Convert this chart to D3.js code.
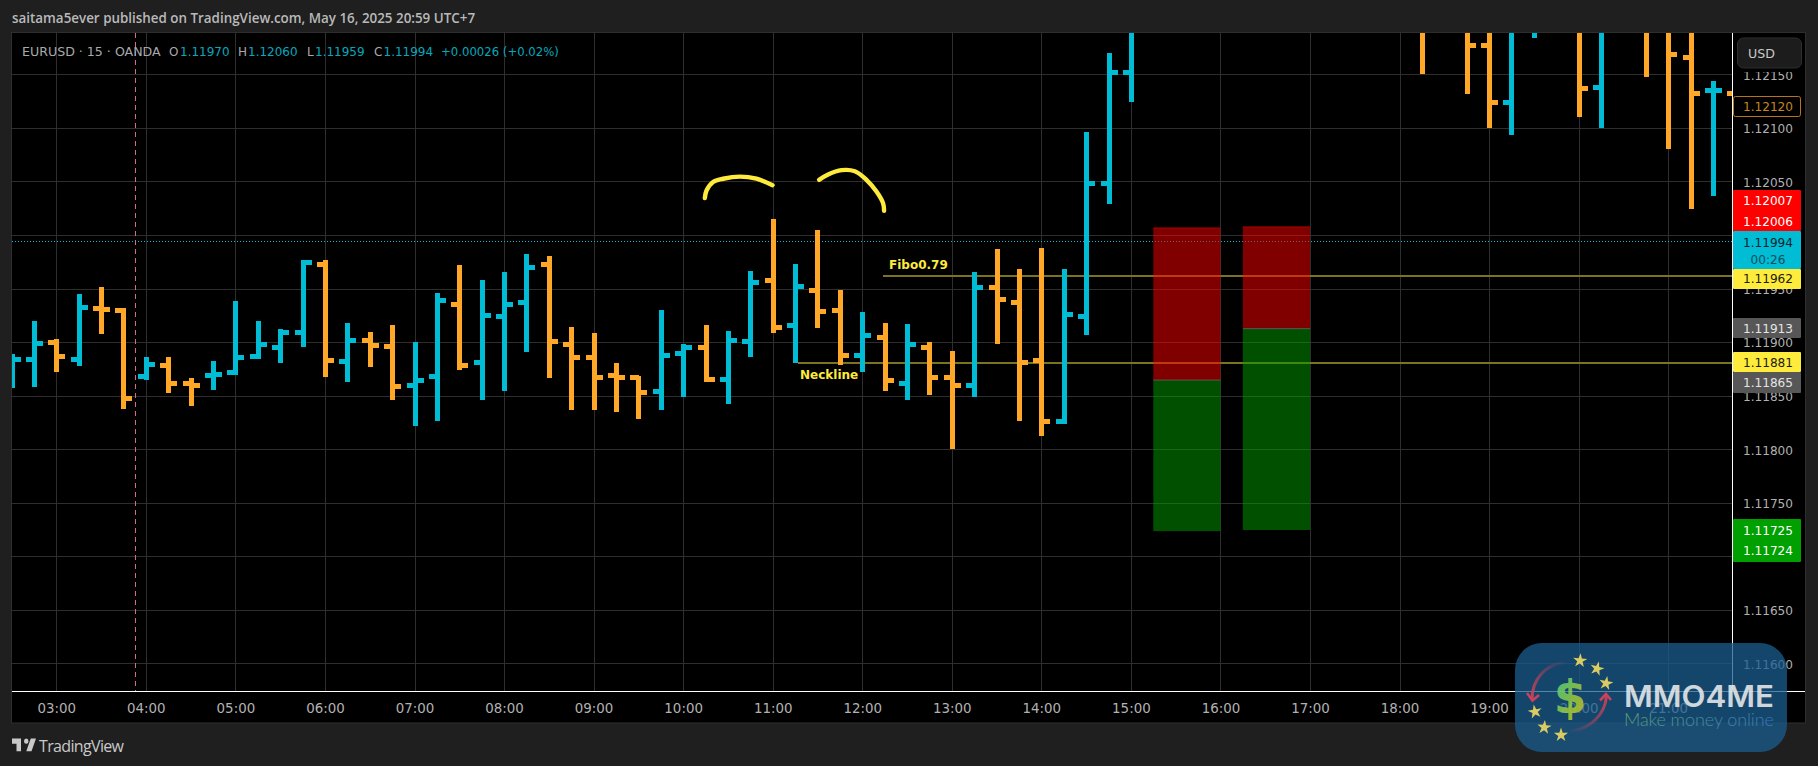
<!DOCTYPE html>
<html><head><meta charset="utf-8">
<script src="https://cdn.jsdelivr.net/npm/d3@7/dist/d3.min.js"></script>
<style>html,body{margin:0;padding:0;background:#1f1f1f;overflow:hidden}svg{display:block}</style>
</head><body><svg id="c" width="1818" height="766"></svg>
<script>
// ---------- data ----------
const barSlots=[0,1,2,3,4,5,6,7,8,9,10,11,12,13,14,15,16,17,18,19,20,21,22,23,24,25,26,27,28,29,30,31,32,33,34,35,36,37,38,39,40,41,42,43,44,45,46,47,48,49,50,63,65,66,67,68,70,71,73,74,75,76,77];
const opens =[1.11875,1.11884,1.11900,1.11884,1.11932,1.11930,1.11868,1.11879,1.11862,1.11869,1.11872,1.11887,1.11895,1.11909,1.11973,1.11882,1.11902,1.11896,1.11860,1.11868,1.11936,1.11881,1.11924,1.11937,1.11973,1.11898,1.11886,1.11869,1.11867,1.11854,1.11890,1.11895,1.11866,1.11901,1.11958,1.11916,1.11949,1.11930,1.11888,1.11905,1.11862,1.11895,1.11867,1.11860,1.11951,1.11937,1.11883,1.11826,1.11924,1.12049,1.12152,1.12230,1.12200,1.12177,1.12124,1.12195,1.12200,1.12138,1.12230,1.12195,1.12166,1.12135,1.12133];
const highs =[1.11889,1.11920,1.11903,1.11945,1.11952,1.11932,1.11887,1.11887,1.11867,1.11883,1.11939,1.11920,1.11913,1.11977,1.11977,1.11918,1.11910,1.11916,1.11901,1.11946,1.11972,1.11958,1.11966,1.11983,1.11981,1.11915,1.11909,1.11881,1.11869,1.11930,1.11899,1.11916,1.11911,1.11967,1.12015,1.11973,1.12005,1.11949,1.11929,1.11918,1.11917,1.11901,1.11892,1.11966,1.11987,1.11969,1.11988,1.11969,1.12097,1.12170,1.12230,1.12240,1.12210,1.12195,1.12205,1.12215,1.12210,1.12205,1.12240,1.12205,1.12200,1.12144,1.12140];
const lows  =[1.11858,1.11859,1.11873,1.11878,1.11908,1.11838,1.11865,1.11853,1.11841,1.11856,1.11870,1.11885,1.11881,1.11896,1.11868,1.11863,1.11877,1.11846,1.11822,1.11827,1.11874,1.11846,1.11855,1.11891,1.11867,1.11837,1.11837,1.11835,1.11829,1.11837,1.11849,1.11863,1.11843,1.11887,1.11909,1.11881,1.11914,1.11879,1.11873,1.11855,1.11846,1.11851,1.11801,1.11849,1.11899,1.11827,1.11813,1.11824,1.11907,1.12029,1.12125,1.12151,1.12132,1.12100,1.12094,1.12184,1.12111,1.12100,1.12148,1.12081,1.12025,1.12037,1.12120];
const closes=[1.11884,1.11899,1.11887,1.11933,1.11931,1.11848,1.11880,1.11862,1.11860,1.11870,1.11886,1.11898,1.11909,1.11975,1.11883,1.11902,1.11897,1.11859,1.11865,1.11939,1.11879,1.11925,1.11936,1.11970,1.11901,1.11886,1.11867,1.11867,1.11853,1.11888,1.11895,1.11866,1.11902,1.11956,1.11914,1.11952,1.11929,1.11888,1.11907,1.11865,1.11898,1.11867,1.11860,1.11951,1.11940,1.11881,1.11826,1.11926,1.12049,1.12152,1.12195,1.12195,1.12177,1.12124,1.12195,1.12200,1.12137,1.12195,1.12210,1.12169,1.12133,1.12135,1.12120];
const firstBarHour=2.5, barHours=0.25;
const priceTicks=[1.1215,1.121,1.1205,1.12,1.1195,1.119,1.1185,1.118,1.1175,1.117,1.1165,1.116];
const hourTicks=[3,4,5,6,7,8,9,10,11,12,13,14,15,16,17,18,19,20,21];
const currentPrice=1.11994, sessionBreakHour=3.88;
const fiboLevel=1.11962, fiboFrom=12.23, necklineLevel=1.11881, necklineFrom=11.28;
const positionHours=[[15.25,16],[16.25,17]];
const positionTop=[1.12007,1.12008], positionMid=[1.11865,1.11913], positionBottom=[1.11724,1.11725];
const doodleHours1=[10.242,10.261,10.334,10.446,10.633,10.819,10.998];
const doodlePrices1=[1.12035,1.12042,1.12050,1.12053,1.12055,1.12053,1.12047];
const doodleHours2=[11.518,11.619,11.768,11.917,12.047,12.159,12.233,12.244];
const doodlePrices2=[1.12052,1.12057,1.12061,1.12060,1.12052,1.12041,1.12030,1.12023];
const titleText="saitama5ever published on TradingView.com, May 16, 2025 20:59 UTC+7";

// ---------- setup ----------
const svg=d3.select("#c"), F='"DejaVu Sans",sans-serif';
const CY="#00bcd4", OR="#ffa726", YE="#ffeb3b";
const L=12,R=1732,T=33,B=691;
const x=d3.scaleLinear().domain([3,21]).range([56.3,1668.2]);
const y=d3.scaleLinear().domain([1.12,1.116]).range([235.5,663.9]);
const sx=v=>Math.round(x(v))+.5, sy=v=>Math.round(y(v)-.5)+.5;
const defs=svg.append("defs");
defs.append("clipPath").attr("id","plot").append("rect").attr("x",L).attr("y",T).attr("width",R-L).attr("height",B-T);

svg.append("rect").attr("width",1818).attr("height",766).attr("fill","#1f1f1f");
svg.append("rect").attr("x",11.5).attr("y",32.5).attr("width",1794).attr("height",690.5).attr("fill","#000").attr("stroke","#2e2e2e");
svg.append("text").attr("x",12).attr("y",22.5).attr("font-family",'"Open Sans",sans-serif').attr("font-size",13.4).attr("font-weight",600).attr("fill","#b9b9b9").text(titleText);

const plot=svg.append("g").attr("clip-path","url(#plot)");
// grid
plot.append("g").selectAll("line").data(hourTicks).join("line").attr("x1",sx).attr("x2",sx).attr("y1",T).attr("y2",B).attr("stroke","#2e2e2e");
plot.append("g").selectAll("line").data(priceTicks).join("line").attr("y1",sy).attr("y2",sy).attr("x1",L).attr("x2",R).attr("stroke","#2e2e2e");
// current price + session break
plot.append("line").attr("x1",L).attr("x2",R).attr("y1",sy(currentPrice)).attr("y2",sy(currentPrice)).attr("stroke",CY).attr("stroke-dasharray","1 2");
plot.append("line").attr("x1",sx(sessionBreakHour)).attr("x2",sx(sessionBreakHour)).attr("y1",T).attr("y2",B).attr("stroke","#d86a90").attr("stroke-dasharray","5 4");
// levels
[[fiboLevel,fiboFrom],[necklineLevel,necklineFrom]].forEach(d=>{
  plot.append("line").attr("x1",x(d[1])).attr("x2",R).attr("y1",Math.round(y(d[0]))).attr("y2",Math.round(y(d[0])))
   .attr("stroke","#7d7420").attr("stroke-width",2).attr("shape-rendering","crispEdges");
});
// positions
positionHours.forEach((h,i)=>{
  const a=x(h[0]),w=x(h[1])-a;
  plot.append("rect").attr("x",a).attr("width",w).attr("y",y(positionTop[i])).attr("height",y(positionMid[i])-y(positionTop[i])).attr("fill","rgba(255,0,0,.5)");
  plot.append("rect").attr("x",a).attr("width",w).attr("y",y(positionMid[i])).attr("height",y(positionBottom[i])-y(positionMid[i])).attr("fill","rgba(0,160,0,.5)");
  plot.append("line").attr("x1",a).attr("x2",a+w).attr("y1",y(positionTop[i])).attr("y2",y(positionTop[i])).attr("stroke","#b00000").attr("stroke-width",1);
  plot.append("line").attr("x1",a).attr("x2",a+w).attr("y1",y(positionMid[i])).attr("y2",y(positionMid[i])).attr("stroke","#5a5a5a").attr("stroke-width",1);
});
// OHLC bars
const bars=barSlots.map((s,i)=>({h:firstBarHour+s*barHours,o:opens[i],hi:highs[i],lo:lows[i],c:closes[i]}));
const gb=plot.append("g").attr("shape-rendering","crispEdges");
const col=d=>d.c>=d.o?CY:OR;
gb.selectAll(".s").data(bars).join("line").attr("x1",d=>sx(d.h)).attr("x2",d=>sx(d.h)).attr("y1",d=>y(d.hi)).attr("y2",d=>y(d.lo)).attr("stroke",col).attr("stroke-width",5);
gb.selectAll(".o").data(bars).join("line").attr("x1",d=>sx(d.h)-8.5).attr("x2",d=>sx(d.h)).attr("y1",d=>sy(d.o)).attr("y2",d=>sy(d.o)).attr("stroke",col).attr("stroke-width",5);
gb.selectAll(".c").data(bars).join("line").attr("x1",d=>sx(d.h)).attr("x2",d=>sx(d.h)+8.5).attr("y1",d=>sy(d.c)).attr("y2",d=>sy(d.c)).attr("stroke",col).attr("stroke-width",5);
// doodles
const dl=d3.line().x(d=>x(d[0])).y(d=>y(d[1])).curve(d3.curveCatmullRom);
[[doodleHours1,doodlePrices1],[doodleHours2,doodlePrices2]].forEach(([a,b])=>{
  plot.append("path").attr("d",dl(a.map((v,i)=>[v,b[i]]))).attr("fill","none").attr("stroke",YE).attr("stroke-width",4.4).attr("stroke-linecap","round").attr("stroke-linejoin","round");
});
// labels
svg.append("text").attr("x",889).attr("y",268.5).attr("font-family",F).attr("font-weight",700).attr("font-size",12).attr("fill",YE).text("Fibo0.79");
svg.append("text").attr("x",800).attr("y",378.5).attr("font-family",F).attr("font-weight",700).attr("font-size",12).attr("fill",YE).text("Neckline");
// legend
const legend=[["EURUSD · 15 · OANDA",22,"#a9a9a9",12.6],["O",169,"#a9a9a9",12],["1.11970",180,"#06a8be",12],["H",238,"#a9a9a9",12],["1.12060",248,"#06a8be",12],["L",307,"#a9a9a9",12],["1.11959",315,"#06a8be",12],["C",374,"#a9a9a9",12],["1.11994",383.5,"#06a8be",12],["+0.00026 (+0.02%)",441,"#06a8be",11.7]];
svg.append("g").selectAll("text").data(legend).join("text").attr("x",d=>d[1]).attr("y",56).attr("font-family",F).attr("font-size",d=>d[3]).attr("fill",d=>d[2]).text(d=>d[0]);

// axes
const ax=svg.append("g").attr("transform",`translate(0,${B})`).call(d3.axisBottom(x).tickValues(hourTicks).tickSize(0).tickPadding(0).tickFormat(h=>String(h).padStart(2,"0")+":00"));
ax.select(".domain").remove();
ax.selectAll("text").attr("y",22).attr("dy",0).attr("font-family",F).attr("font-size",13.4).attr("fill","#b2b2b2");
const ay=svg.append("g").attr("transform",`translate(${R},0)`).call(d3.axisRight(y).tickValues(priceTicks).tickSize(0).tickPadding(0).tickFormat(d3.format(".5f")));
ay.select(".domain").remove();
ay.selectAll("text").attr("x",36).attr("dy","0.36em").attr("text-anchor","middle").attr("font-family",F).attr("font-size",12.1).attr("fill","#b2b2b2");
svg.append("line").attr("x1",L).attr("x2",1805).attr("y1",B).attr("y2",B).attr("stroke","#fff").attr("shape-rendering","crispEdges");
svg.append("line").attr("x1",R+.5).attr("x2",R+.5).attr("y1",T).attr("y2",B).attr("stroke","#fff");

// price tags
const tags=[[190,231,"#ff0000"],[231,269,CY],[269,289,YE],[318,338,"#575757"],[352,372,YE],[372,393,"#575757"],[519,562,"#00a000"]];
svg.append("g").selectAll("rect").data(tags).join("rect").attr("x",R+1).attr("width",68).attr("y",d=>d[0]).attr("height",d=>d[1]-d[0]).attr("fill",d=>d[2]).attr("rx",1);
svg.append("rect").attr("x",R+1.5).attr("y",96.5).attr("width",67).attr("height",20).attr("rx",2).attr("fill","#000").attr("stroke","#b87512");
const tagText=[["1.12120",107,"#c9851f"],["1.12007",201,"#fff"],["1.12006",222,"#fff"],["1.11994",243,"#10242c"],["00:26",260,"#0d4e5a"],["1.11962",279,"#1c1c10"],["1.11913",329,"#e4e4e4"],["1.11881",363,"#1c1c10"],["1.11865",383,"#e4e4e4"],["1.11725",530.5,"#fff"],["1.11724",551,"#fff"]];
svg.append("g").selectAll("text").data(tagText).join("text").attr("x",1768).attr("y",d=>d[1]).attr("dy","0.36em").attr("text-anchor","middle").attr("font-family",F).attr("font-size",12.1).attr("fill",d=>d[2]).text(d=>d[0]);
// USD
svg.append("rect").attr("x",R+1).attr("y",33).attr("width",71).attr("height",39).attr("fill","#000");
svg.append("rect").attr("x",1737.5).attr("y",38).attr("width",64).attr("height",30).attr("rx",6).attr("fill","#1c1c1c").attr("stroke","#2f2f2f");
svg.append("text").attr("x",1748).attr("y",57.5).attr("font-family",F).attr("font-size",12.6).attr("fill","#c8c8c8").text("USD");

// TradingView mark
svg.append("path").attr("d","M14 6H2v6h6v9h6V6zm14 15h-7l6-15h7l-6 15zm-7-9a3 3 0 100-6 3 3 0 000 6z").attr("transform","translate(10.5,733.5) scale(.75,.85)").attr("fill","#c9c9c9");
svg.append("text").attr("x",39).attr("y",751.5).attr("font-family",'"Open Sans",sans-serif').attr("font-size",16).attr("fill","#c9c9c9").attr("textLength",85).text("TradingView");

// watermark
const grad1=defs.append("linearGradient").attr("id","dol").attr("x1",0).attr("x2",1).attr("y1",0).attr("y2",1);
grad1.append("stop").attr("offset",.1).attr("stop-color","#4fd585");grad1.append("stop").attr("offset",.9).attr("stop-color","#cfc60f");
const grad2=defs.append("linearGradient").attr("id","sub").attr("gradientUnits","userSpaceOnUse").attr("x1",1624).attr("x2",1774).attr("y1",0).attr("y2",0);
grad2.append("stop").attr("offset",0).attr("stop-color","#67ac7c");grad2.append("stop").attr("offset",1).attr("stop-color","#3a80c4");
const gf1=defs.append("linearGradient").attr("id","a1").attr("gradientUnits","userSpaceOnUse").attr("x1",1565).attr("y1",662).attr("x2",1532).attr("y2",700);
gf1.append("stop").attr("offset",0).attr("stop-color","#c8425a").attr("stop-opacity",.05);gf1.append("stop").attr("offset",1).attr("stop-color","#c8425a");
const gf2=defs.append("linearGradient").attr("id","a2").attr("gradientUnits","userSpaceOnUse").attr("x1",1570).attr("y1",731).attr("x2",1606).attr("y2",695);
gf2.append("stop").attr("offset",0).attr("stop-color","#c8425a").attr("stop-opacity",.05);gf2.append("stop").attr("offset",1).attr("stop-color","#c8425a");
const wm=svg.append("g");
wm.append("rect").attr("x",1515).attr("y",643).attr("width",272).attr("height",109).attr("rx",27).attr("fill","rgb(27,93,144)").attr("opacity",.75);
[[1580,660.7],[1597,668.7],[1606,683.3],[1535,711.7],[1544.3,727.3],[1561,735]].forEach((p,i)=>{
  wm.append("path").attr("d",d3.symbol(d3.symbolStar,62)()).attr("transform",`translate(${p[0]},${p[1]}) rotate(${[5,15,10,-10,5,0][i]})`).attr("fill","#f0da60").attr("opacity",.9);
});
wm.append("path").attr("d","M1565 662.5C1545 664 1532 680 1532 699").attr("fill","none").attr("stroke","url(#a1)").attr("stroke-width",3);
wm.append("path").attr("d","M1527 693L1532.5 700.5L1539 695").attr("fill","none").attr("stroke","#c8425a").attr("stroke-width",2.6);
wm.append("path").attr("d","M1571 731C1590 729 1605 715 1606.5 696").attr("fill","none").attr("stroke","url(#a2)").attr("stroke-width",3);
wm.append("path").attr("d","M1600 700.5L1606 694L1611 700").attr("fill","none").attr("stroke","#c8425a").attr("stroke-width",2.6);
wm.append("text").attr("x",1570).attr("y",713).attr("text-anchor","middle").attr("font-family",F).attr("font-weight",700).attr("font-size",47).attr("fill","url(#dol)").attr("opacity",.85).text("$");
wm.append("text").attr("x",1624).attr("y",707).attr("font-family",'Inter,Lato,sans-serif').attr("font-weight",600).attr("font-size",30).attr("fill","#f0f0f0").attr("opacity",.85).attr("textLength",150).attr("lengthAdjust","spacingAndGlyphs").text("MMO4ME");
wm.append("text").attr("x",1624).attr("y",726).attr("font-family",'Lato,sans-serif').attr("font-weight",300).attr("font-size",18).attr("fill","url(#sub)").attr("opacity",.85).attr("textLength",150).text("Make money online");
</script></body></html>
